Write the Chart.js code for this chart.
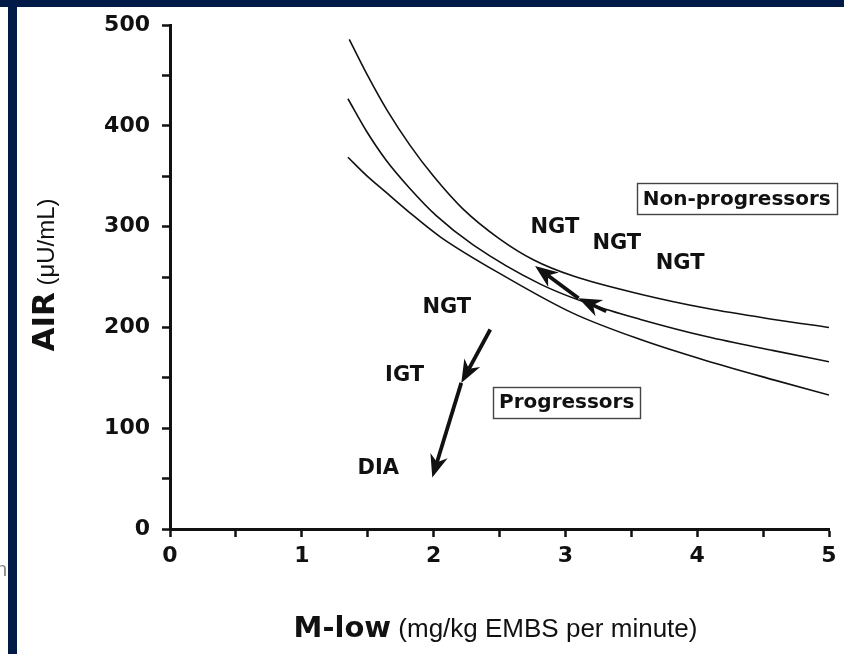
<!DOCTYPE html>
<html>
<head>
<meta charset="utf-8">
<script src="https://cdn.jsdelivr.net/npm/chart.js@4.4.1/dist/chart.umd.min.js"></script>
<style>
  html, body { margin: 0; padding: 0; background: #fff; }
  #wrap { position: relative; width: 844px; height: 654px; overflow: hidden; background: #fff; }
  #chart { position: absolute; left: 0; top: 0; }
  .band-top { position: absolute; left: 0; top: 0; width: 844px; height: 7px; background: #011a47; }
  .band-left { position: absolute; left: 8px; top: 0; width: 9px; height: 654px; background: #011a47; }
  .stray { position: absolute; left: -4px; top: 558px; font: 20px 'Liberation Sans', Arial, sans-serif; color: #888; }
</style>
</head>
<body>
<div id="wrap">
  <canvas id="chart" width="844" height="654"></canvas>
  <div class="band-top"></div>
  <div class="band-left"></div>
  <div class="stray">n</div>
</div>
<script>
// boundary curves (M-low vs AIR)
const upperX = [1.36, 1.50, 1.65, 1.82, 2.00, 2.22, 2.50, 2.76, 3.06, 3.57, 4.07, 4.58, 5.00];
const upperY = [486, 450, 415, 381, 350, 318, 288, 267, 251, 233, 219, 208, 200];
const middleX = [1.35, 1.49, 1.64, 1.82, 2.02, 2.30, 2.81, 3.19, 3.57, 4.07, 4.58, 5.00];
const middleY = [427, 395, 366, 338, 311, 282, 243, 223, 208, 191, 177, 166];
const lowerX = [1.35, 1.49, 1.64, 1.80, 2.05, 2.55, 3.06, 3.57, 4.07, 4.58, 5.00];
const lowerY = [369, 351, 334, 316, 290, 250, 214, 188, 167, 148, 133];

// arrow paths, heads at every point after the first
const progArrowX = [2.43, 2.21, 1.99];
const progArrowY = [198, 145, 51];
const ngtArrowX = [3.31, 3.10, 2.77];
const ngtArrowY = [216, 229, 261];

// text labels
const labelText = ['NGT', 'NGT', 'NGT', 'NGT', 'IGT', 'DIA'];
const labelX = [2.92, 3.39, 3.87, 2.10, 1.78, 1.58];
const labelY = [299, 283, 263, 220, 152, 60];
const boxText = ['Non-progressors', 'Progressors'];
const boxX = [4.30, 3.01];
const boxY = [328, 126];

const bold = "'DejaVu Sans', sans-serif";
const plain = "'Liberation Sans', Arial, sans-serif";

function pts(xs, ys) {
  return xs.map((x, i) => ({ x, y: ys[i] }));
}

function curve(xs, ys) {
  return {
    data: pts(xs, ys),
    showLine: true,
    borderColor: '#111',
    borderWidth: 1.6,
    pointRadius: 0,
    cubicInterpolationMode: 'monotone'
  };
}

function drawHead(ctx, fx, fy, tx, ty) {
  const a = Math.atan2(ty - fy, tx - fx);
  ctx.save();
  ctx.translate(tx, ty);
  ctx.rotate(a);
  ctx.beginPath();
  ctx.moveTo(0, 0);
  ctx.lineTo(-23, -9);
  ctx.lineTo(-16, 0);
  ctx.lineTo(-23, 9);
  ctx.closePath();
  ctx.fill();
  ctx.restore();
}

function drawArrow(ctx, x, y, xs, ys) {
  const p = xs.map((v, i) => [x.getPixelForValue(v), y.getPixelForValue(ys[i])]);
  ctx.lineWidth = 3.8;
  ctx.lineCap = 'butt';
  for (let i = 1; i < p.length; i++) {
    const [fx, fy] = p[i - 1];
    const [tx, ty] = p[i];
    const len = Math.hypot(tx - fx, ty - fy);
    const ex = tx - (tx - fx) * 16 / len;
    const ey = ty - (ty - fy) * 16 / len;
    ctx.beginPath();
    ctx.moveTo(fx, fy);
    ctx.lineTo(ex, ey);
    ctx.stroke();
    drawHead(ctx, fx, fy, tx, ty);
  }
}

const extras = {
  id: 'extras',
  afterDatasetsDraw(chart) {
    const { ctx, scales: { x, y } } = chart;
    ctx.save();
    ctx.fillStyle = '#111';
    ctx.strokeStyle = '#111';
    drawArrow(ctx, x, y, progArrowX, progArrowY);
    drawArrow(ctx, x, y, ngtArrowX, ngtArrowY);

    ctx.textAlign = 'center';
    ctx.textBaseline = 'middle';
    ctx.font = `bold 21px ${bold}`;
    labelText.forEach((t, i) => {
      ctx.fillText(t, x.getPixelForValue(labelX[i]), y.getPixelForValue(labelY[i]));
    });

    ctx.font = `bold 20px ${bold}`;
    ctx.lineWidth = 1.4;
    ctx.strokeStyle = '#444';
    boxText.forEach((t, i) => {
      const cx = x.getPixelForValue(boxX[i]);
      const cy = y.getPixelForValue(boxY[i]);
      const w = ctx.measureText(t).width + 12;
      const h = 31;
      ctx.strokeRect(Math.round(cx - w / 2) + 0.5, Math.round(cy - h / 2) + 0.5, Math.round(w), h);
      ctx.fillText(t, cx, cy + 1);
    });

    // x axis title: bold name, plain units
    const xName = 'M-low', xUnit = ' (mg/kg EMBS per minute)';
    ctx.textAlign = 'left';
    ctx.textBaseline = 'alphabetic';
    ctx.font = `bold 29px ${bold}`;
    const w1 = ctx.measureText(xName).width;
    ctx.font = `26px ${plain}`;
    const w2 = ctx.measureText(xUnit).width;
    const sx = (x.left + x.right) / 2 - 4 - (w1 + w2) / 2;
    ctx.font = `bold 29px ${bold}`;
    ctx.fillText(xName, sx, 637);
    ctx.font = `26px ${plain}`;
    ctx.fillText(xUnit, sx + w1, 637);

    // y axis title, rotated
    const yName = 'AIR', yUnit = ' (\u03bcU/mL)';
    ctx.save();
    ctx.translate(54, 275);
    ctx.rotate(-Math.PI / 2);
    ctx.font = `bold 31px ${bold}`;
    const v1 = ctx.measureText(yName).width;
    ctx.font = `24px ${plain}`;
    const v2 = ctx.measureText(yUnit).width;
    const s0 = -(v1 + v2) / 2;
    ctx.font = `bold 31px ${bold}`;
    ctx.fillText(yName, s0, 0);
    ctx.font = `24px ${plain}`;
    ctx.fillText(yUnit, s0 + v1, 0);
    ctx.restore();

    ctx.restore();
  }
};

const tickFont = { family: bold, size: 22, weight: 'bold' };

new Chart(document.getElementById('chart'), {
  type: 'scatter',
  data: {
    datasets: [
      curve(upperX, upperY),
      curve(middleX, middleY),
      curve(lowerX, lowerY)
    ]
  },
  options: {
    responsive: false,
    animation: false,
    layout: { padding: { top: 22, right: 15, left: 0, bottom: 0 } },
    plugins: {
      legend: { display: false },
      tooltip: { enabled: false }
    },
    scales: {
      x: {
        type: 'linear',
        min: 0,
        max: 5,
        ticks: {
          stepSize: 0.5,
          autoSkip: false,
          maxRotation: 0,
          padding: 6,
          color: '#111',
          font: tickFont,
          callback: v => Number.isInteger(v) ? v : ''
        },
        grid: { drawOnChartArea: false, drawTicks: true, tickLength: 8, tickWidth: 2.5, tickColor: '#111' },
        border: { display: true, color: '#111', width: 3 },
        afterFit(s) { s.height = 125; }
      },
      y: {
        type: 'linear',
        min: 0,
        max: 500,
        ticks: {
          stepSize: 50,
          autoSkip: false,
          padding: 12,
          color: '#111',
          font: tickFont,
          callback: v => v % 100 === 0 ? v : ''
        },
        grid: { drawOnChartArea: false, drawTicks: true, tickLength: 8, tickWidth: 2.5, tickColor: '#111' },
        border: { display: true, color: '#111', width: 3 },
        afterFit(s) { s.width = 170; }
      }
    }
  },
  plugins: [extras]
});
</script>
</body>
</html>
